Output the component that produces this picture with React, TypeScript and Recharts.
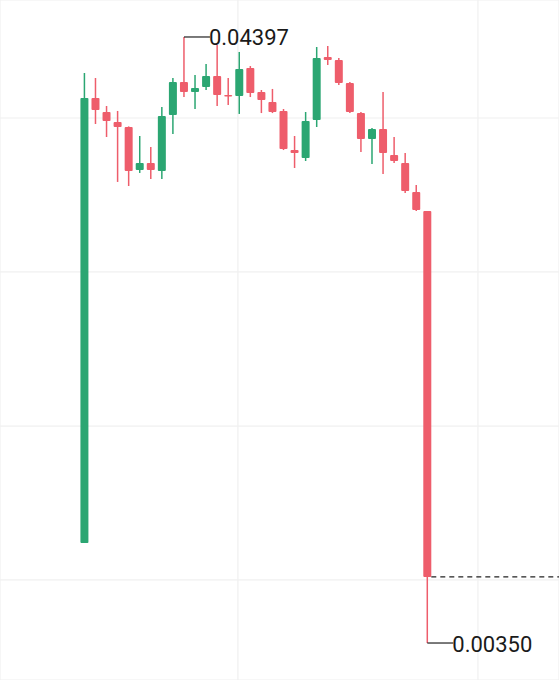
import React from "react";
import { ComposedChart, Bar, XAxis, YAxis, CartesianGrid } from "recharts";

const W = 559;
const H = 680;
const GREEN = "#2ba672";
const RED = "#ee5d6b";

const opens = [
  0.01018, 0.0399, 0.03896, 0.03829, 0.03796, 0.03509, 0.03556, 0.03502, 0.03876, 0.04096,
  0.0403, 0.04063, 0.04137, 0.0401, 0.04003, 0.0419, 0.0403, 0.03963, 0.03903, 0.03642,
  0.03589, 0.03843, 0.04263, 0.04243, 0.0409, 0.03889, 0.03716, 0.03783, 0.03609, 0.03556,
  0.03362, 0.03235,
];
const highs = [
  0.04157, 0.04123, 0.03936, 0.03903, 0.038, 0.03736, 0.03662, 0.0393, 0.04123, 0.04397,
  0.04143, 0.04217, 0.04344, 0.04123, 0.04297, 0.04203, 0.04043, 0.0405, 0.03916, 0.03736,
  0.03896, 0.0433, 0.04337, 0.04257, 0.04096, 0.03896, 0.03789, 0.0403, 0.03729, 0.03622,
  0.03409, 0.03235,
];
const lows = [
  0.01018, 0.03816, 0.03729, 0.03429, 0.03402, 0.03489, 0.03449, 0.03449, 0.03749, 0.03996,
  0.03916, 0.04043, 0.03936, 0.03943, 0.03883, 0.03996, 0.03889, 0.03889, 0.03642, 0.03522,
  0.03569, 0.03796, 0.0421, 0.04076, 0.03889, 0.03629, 0.03549, 0.03482, 0.03556, 0.03355,
  0.03235, 0.0035,
];
const closes = [
  0.0399, 0.0391, 0.03836, 0.03796, 0.03502, 0.03556, 0.03509, 0.03869, 0.04096, 0.0403,
  0.04056, 0.04137, 0.0401, 0.04003, 0.04183, 0.04023, 0.03976, 0.03896, 0.03649, 0.03622,
  0.03836, 0.04257, 0.04243, 0.0409, 0.03896, 0.03716, 0.03783, 0.03622, 0.03569, 0.03369,
  0.03242, 0.00791,
];

// grid positions (time ticks / price ticks)
const timeTicks = [13.92, 35.62];
const priceTicks = [0.00771, 0.01799, 0.02828, 0.03856];

const data = opens.map((o, i) => ({
  i,
  open: o,
  high: highs[i],
  low: lows[i],
  close: closes[i],
}));

const maxHigh = Math.max(...highs);
const minLow = Math.min(...lows);
const lastIdx = data.length - 1;

const Candle = (props: any) => {
  const { x, y, width, height, payload } = props;
  const { open, close, high, low, i } = payload;
  const color = close >= open ? GREEN : RED;
  const ratio = high - low > 0 ? height / (high - low) : 0;
  const yOf = (v: number) => y + (high - v) * ratio;
  const top = yOf(Math.max(open, close));
  const bodyH = Math.max(1.5, Math.abs(open - close) * ratio);
  const cx = x + width / 2;
  return (
    <g>
      <line x1={cx} x2={cx} y1={y} y2={y + height} stroke={color} strokeWidth={1.5} />
      <rect x={x} y={top} width={width} height={bodyH} fill={color} rx={1} />
      {high === maxHigh && (
        <g>
          <line x1={cx} x2={cx + 26} y1={y} y2={y} stroke="#222" strokeWidth={1.2} />
          <text x={cx + 25} y={y + 1} fontSize={22} fontFamily="Roboto" fill="#1a1a1a" dominantBaseline="central">
            {high.toFixed(5)}
          </text>
        </g>
      )}
      {low === minLow && (
        <g>
          <line x1={cx} x2={cx + 26} y1={y + height} y2={y + height} stroke="#222" strokeWidth={1.2} />
          <text x={cx + 25} y={y + height + 1} fontSize={22} fontFamily="Roboto" fill="#1a1a1a" dominantBaseline="central">
            {low.toFixed(5)}
          </text>
        </g>
      )}
      {i === lastIdx && (
        <line x1={x + width} x2={W} y1={yOf(close)} y2={yOf(close)} stroke="#222" strokeWidth={1.2} strokeDasharray="5 4" />
      )}
    </g>
  );
};

export default function App() {
  return (
    <div style={{ position: "absolute", left: 0, top: 0, background: "#fff" }}>
      <ComposedChart width={W} height={H} data={data} margin={{ top: 0, right: 0, bottom: 0, left: 0 }}>
        <CartesianGrid stroke="#f0f0f0" strokeWidth={1.2} />
        <XAxis dataKey="i" type="number" domain={[-7.59, 42.95]} ticks={timeTicks} hide />
        <YAxis type="number" domain={[0.00103, 0.04644]} ticks={priceTicks} hide allowDataOverflow />
        <Bar
          dataKey={(d: any) => [d.low, d.high]}
          barSize={8}
          shape={Candle}
          isAnimationActive={false}
        />
      </ComposedChart>
    </div>
  );
}
